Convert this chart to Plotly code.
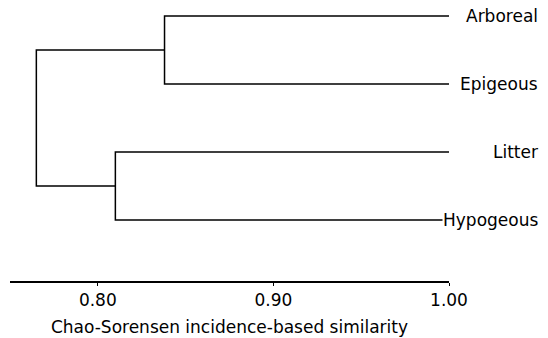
import plotly.graph_objects as go

# ---- data ----
leaves = ["Arboreal", "Epigeous", "Litter", "Hypogeous"]
leaf_similarity = 1.00
# linkage rows: child_a, child_b, merge similarity (nodes 4,5,6 are clusters)
merge_a = [0, 2, 4]
merge_b = [1, 3, 5]
merge_sim = [0.838, 0.810, 0.765]
tick_vals = [0.80, 0.90, 1.00]
tick_text = ["0.80", "0.90", "1.00"]
axis_title = "Chao-Sorensen incidence-based similarity"

# ---- layout geometry ----
W, H = 548, 338
axis_left_px, axis_right_px = 10.0, 449.0
axis_min, axis_max = 0.75, 1.00
leaf_top_px, leaf_step_px = 16.0, 68.0
y_lo = (0 - leaf_top_px) / leaf_step_px
y_hi = (H - leaf_top_px) / leaf_step_px
axis_px = 282.0
label_right_px = 539.0

FONT = dict(family="DejaVu Sans", size=17, color="black")

# node positions
node_x = [leaf_similarity] * len(leaves)
node_y = list(range(len(leaves)))
xs, ys = [], []
for a, b, h in zip(merge_a, merge_b, merge_sim):
    xs += [node_x[a], h, h, node_x[b], None]
    ys += [node_y[a], node_y[a], node_y[b], node_y[b], None]
    node_x.append(h)
    node_y.append((node_y[a] + node_y[b]) / 2)

fig = go.Figure()
fig.add_trace(go.Scatter(x=xs, y=ys, mode="lines",
                         line=dict(color="black", width=1.5),
                         hoverinfo="skip", showlegend=False))

for i, name in enumerate(leaves):
    fig.add_annotation(x=label_right_px / W, y=i, xref="paper", yref="y",
                       text=name, showarrow=False, xanchor="right",
                       yanchor="middle", font=FONT, bgcolor="white",
                       borderpad=0)

fig.update_layout(
    width=W, height=H, autosize=False,
    margin=dict(l=0, r=0, t=0, b=0, pad=0, autoexpand=False),
    plot_bgcolor="white", paper_bgcolor="white",
    xaxis=dict(domain=[axis_left_px / W, axis_right_px / W],
               range=[axis_min, axis_max], automargin=False,
               anchor="free", position=(H - axis_px) / H,
               showline=True, linecolor="black", linewidth=1.5,
               ticks="outside", ticklen=3, tickwidth=1, tickcolor="black",
               tickvals=tick_vals, ticktext=tick_text,
               tickfont=FONT, showgrid=False, zeroline=False,
               title=dict(text=axis_title, font=FONT, standoff=11)),
    yaxis=dict(visible=False, domain=[0, 1], range=[y_hi, y_lo],
               automargin=False),
    showlegend=False,
)

fig.write_html("out.html", config={"responsive": False, "displayModeBar": False},
               post_script="document.body.style.margin='0';")
